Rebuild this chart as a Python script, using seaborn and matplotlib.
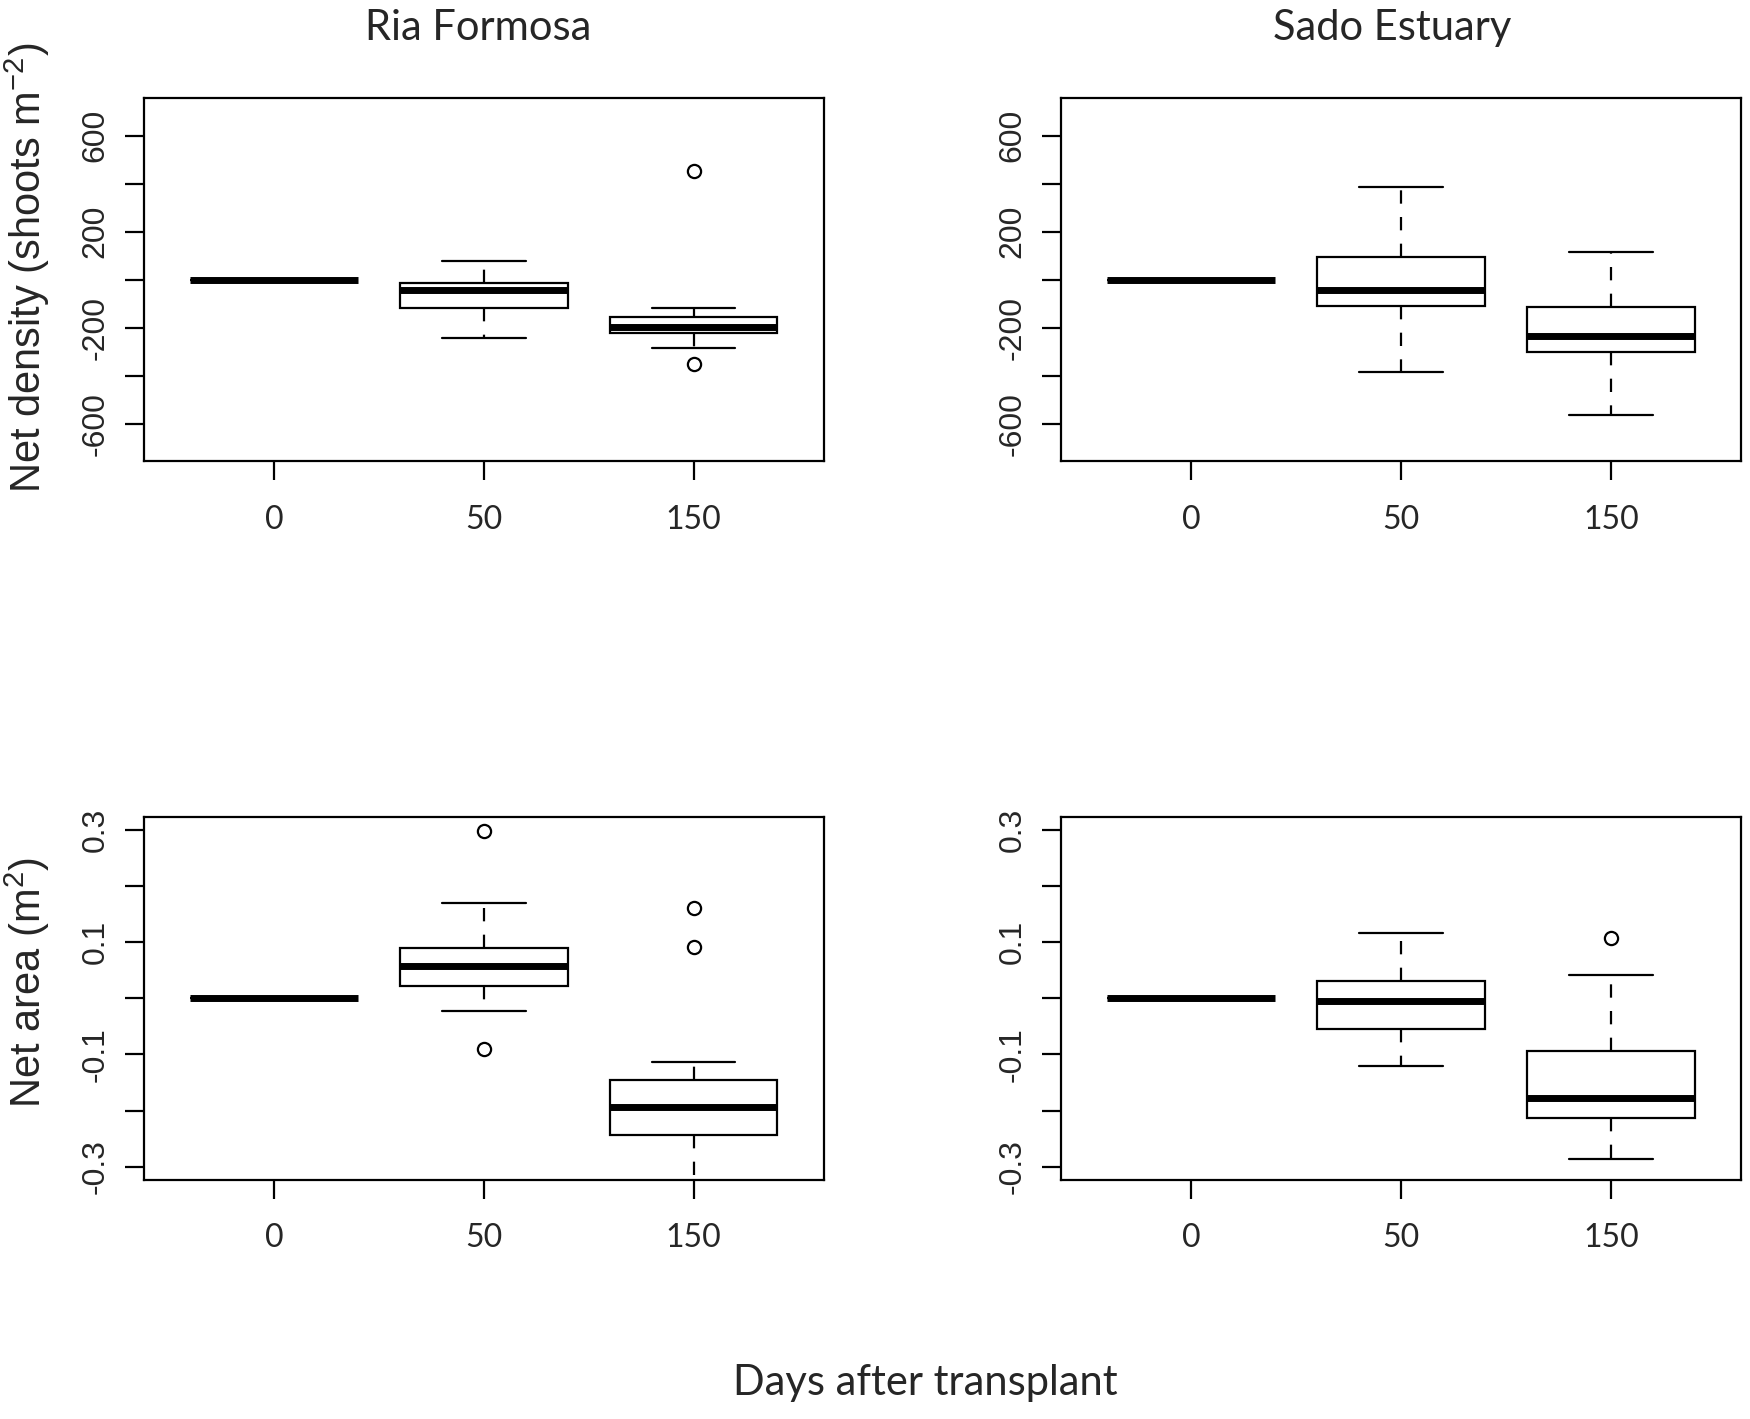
import numpy as np
import pandas as pd
import matplotlib
matplotlib.use("Agg")
import matplotlib.pyplot as plt
import seaborn as sns

# ---------------- data ----------------
days = ["0", "50", "150"]
sites = ["Ria Formosa", "Sado Estuary"]

# Net density (shoots m-2)
ria_density_d0 = [0, 0, 0, 0, 0, 0, 0, 0, 0]
ria_density_d50 = [-242, -170, -115, -80, -42, -25, -11, 30, 78]
ria_density_d150 = [-350, -285, -222, -210, -197, -180, -155, -115, 453]
sado_density_d0 = [0, 0, 0, 0, 0, 0, 0, 0, 0]
sado_density_d50 = [-384, -250, -107, -70, -42, 20, 94, 250, 388]
sado_density_d150 = [-561, -420, -301, -260, -233, -180, -111, 20, 114]

# Net area (m2)
ria_area_d0 = [0, 0, 0, 0, 0, 0, 0, 0, 0]
ria_area_d50 = [-0.091, -0.022, 0.022, 0.040, 0.057, 0.075, 0.090, 0.171, 0.299]
ria_area_d150 = [-0.37, -0.32, -0.27, -0.244, -0.22, -0.205, -0.193,
                 -0.175, -0.16, -0.145, -0.113, 0.0925, 0.162]
sado_area_d0 = [0, 0, 0, 0, 0, 0, 0, 0, 0]
sado_area_d50 = [-0.121, -0.09, -0.0545, -0.03, -0.004, 0.015, 0.031, 0.07, 0.117]
sado_area_d150 = [-0.286, -0.25, -0.213, -0.195, -0.178, -0.14, -0.094, 0.041, 0.107]

density_ticks = [-600, -400, -200, 0, 200, 400, 600]
density_ticklabels = ["-600", "", "-200", "", "200", "", "600"]
area_ticks = [-0.3, -0.2, -0.1, 0.0, 0.1, 0.2, 0.3]
area_ticklabels = ["-0.3", "", "-0.1", "", "0.1", "", "0.3"]

density_label = r"Net density (shoots m$^{-2}$)"
area_label = r"Net area (m$^{2}$)"
x_label = "Days after transplant"

# ---------------- long table ----------------
groups = {
    ("Ria Formosa", "density"): [ria_density_d0, ria_density_d50, ria_density_d150],
    ("Sado Estuary", "density"): [sado_density_d0, sado_density_d50, sado_density_d150],
    ("Ria Formosa", "area"): [ria_area_d0, ria_area_d50, ria_area_d150],
    ("Sado Estuary", "area"): [sado_area_d0, sado_area_d50, sado_area_d150],
}
rows = []
for (site, var), lists in groups.items():
    for d, vals in zip(days, lists):
        for v in vals:
            rows.append({"site": site, "variable": var, "day": d, "value": v})
df = pd.DataFrame(rows)

# ---------------- style ----------------
sns.set_style("white")
plt.rcParams["font.family"] = ["Lato", "DejaVu Sans"]
plt.rcParams["mathtext.default"] = "regular"

AXIS_FONT = ["Liberation Sans", "DejaVu Sans"]

fig = plt.figure(figsize=(17.5, 14.19), dpi=100)
fig.patch.set_facecolor("white")

positions = {
    ("Ria Formosa", "density"): [0.0823, 0.6748, 0.3883, 0.2559],
    ("Sado Estuary", "density"): [0.6063, 0.6748, 0.3886, 0.2559],
    ("Ria Formosa", "area"): [0.0823, 0.1684, 0.3883, 0.2560],
    ("Sado Estuary", "area"): [0.6063, 0.1684, 0.3886, 0.2560],
}

for (site, var), pos in positions.items():
    ax = fig.add_axes(pos)
    sub = df[(df["site"] == site) & (df["variable"] == var)]
    sns.boxplot(
        data=sub, x="day", y="value", order=days, ax=ax,
        color="white", linecolor="black", linewidth=1.6, width=0.8, whis=1.5,
        saturation=1,
        medianprops=dict(linewidth=5, solid_capstyle="butt"),
        whiskerprops=dict(linestyle=(0, (6, 6))),
        flierprops=dict(marker="o", markerfacecolor="none",
                        markeredgecolor="black", markersize=9.5,
                        markeredgewidth=1.6),
    )
    ax.set_xlim(-0.62, 2.62)
    if var == "density":
        ax.set_ylim(-755, 755)
        ax.set_yticks(density_ticks)
        ax.set_yticklabels(density_ticklabels)
    else:
        ax.set_ylim(-0.324, 0.324)
        ax.set_yticks(area_ticks)
        ax.set_yticklabels(area_ticklabels)
    for lab in ax.get_yticklabels():
        lab.set_rotation(90)
        lab.set_va("center")
        lab.set_ha("right")
        lab.set_fontfamily(AXIS_FONT)
        lab.set_fontsize(23)
    for lab in ax.get_xticklabels():
        lab.set_fontsize(23)
    ax.tick_params(axis="both", direction="out", length=14, width=1.6,
                   color="black", left=True, bottom=True)
    ax.tick_params(axis="x", pad=17)
    ax.tick_params(axis="y", pad=10)
    ax.set_xlabel("")
    if site == "Ria Formosa":
        ylab = density_label if var == "density" else area_label
        yfrac = 0.533 if var == "density" else 0.543
        ax.set_ylabel(ylab, fontsize=30, family=AXIS_FONT, va="center")
        ax.yaxis.set_label_coords(-0.172, yfrac)
    else:
        ax.set_ylabel("")
    for sp in ax.spines.values():
        sp.set_visible(True)
        sp.set_color("black")
        sp.set_linewidth(1.6)
    ax.grid(False)

fig.text(0.2731, 0.9718, sites[0], ha="center", va="baseline", fontsize=30)
fig.text(0.7954, 0.9718, sites[1], ha="center", va="baseline", fontsize=30)
fig.text(0.5286, 0.0169, x_label, ha="center", va="baseline", fontsize=30)

fig.savefig("out.png", dpi=100, facecolor="white")
